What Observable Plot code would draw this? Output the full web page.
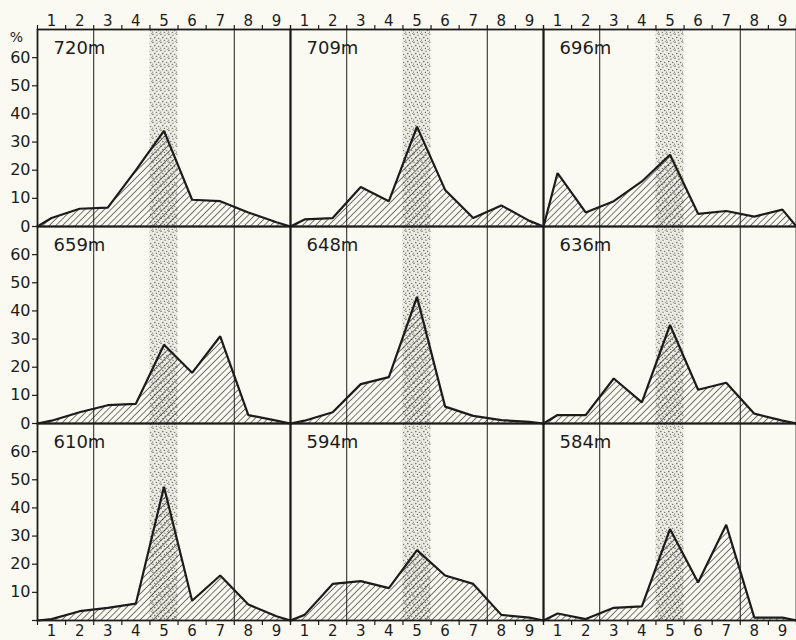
<!DOCTYPE html>
<html>
<head>
<meta charset="utf-8">
<script src="https://cdn.jsdelivr.net/npm/d3@7"></script>
<script src="https://cdn.jsdelivr.net/npm/@observablehq/plot@0.6"></script>
<style>
  html, body { margin: 0; padding: 0; background: #fbfaf2; }
  #chart { width: 796px; height: 640px; }
</style>
</head>
<body>
<div id="chart"></div>
<script>
// ---- data ----
const depths = ["720m", "709m", "696m", "659m", "648m", "636m", "610m", "594m", "584m"];
// x positions: left edge, centres of classes 1..9, right edge
const classPos = [0, 0.5, 1.5, 2.5, 3.5, 4.5, 5.5, 6.5, 7.5, 8.5, 9];
const classLabels = ["1", "2", "3", "4", "5", "6", "7", "8", "9"];
const classCentres = [0.5, 1.5, 2.5, 3.5, 4.5, 5.5, 6.5, 7.5, 8.5];
const classBounds = [0, 1, 2, 3, 4, 5, 6, 7, 8, 9];
const dividers = [2, 7];           // thin vertical lines
const band = [{x1: 4, x2: 5}];     // stippled class 5
const yTicks = [0, 10, 20, 30, 40, 50, 60];

const v720 = [0, 3, 6.3, 6.7, 20, 34, 9.5, 9, 5, 1.5, 0];
const v709 = [0, 2.5, 3, 14, 9, 35.5, 13, 3, 7.5, 2, 0];
const v696 = [0, 19, 5, 9, 16, 25.5, 4.5, 5.5, 3.5, 6, 0];
const v659 = [0, 1, 4, 6.5, 7, 28, 18, 31, 3, 1, 0];
const v648 = [0, 1, 4, 14, 16.5, 45, 6, 2.7, 1.2, 0.6, 0];
const v636 = [0, 3, 3, 16, 7.5, 35, 12, 14.5, 3.5, 1, 0];
const v610 = [0, 0.5, 3.3, 4.5, 6, 47.5, 7, 16, 5.7, 1.5, 0];
const v594 = [0, 2, 13, 14, 11.5, 25, 16, 13, 2, 1, 0];
const v584 = [0, 2.5, 0.5, 4.5, 5, 32.5, 13.5, 34, 1, 1, 0];
const series = [v720, v709, v696, v659, v648, v636, v610, v594, v584];

// ---- tables built from the arrays ----
const panels = depths.map((name, k) => ({name, col: k % 3, row: Math.floor(k / 3)}));
const points = panels.flatMap((p, k) => series[k].map((v, j) => ({panel: p.name, col: p.col, row: p.row, x: classPos[j], v})));
const yLabels = [0, 1, 2].flatMap(r => yTicks.filter(t => !(r === 2 && t === 0)).map(t => ({row: r, col: 0, t})));

const ink = "#1c1c1c";
const font = "DejaVu Sans";

const chart = Plot.plot({
  width: 796,
  height: 640,
  marginLeft: 37,
  marginRight: 0,
  marginTop: 28,
  marginBottom: 19,
  style: {background: "transparent", fontFamily: font, color: ink, overflow: "visible"},
  fx: {domain: [0, 1, 2], padding: 0, axis: null},
  fy: {domain: [0, 1, 2], padding: 0, axis: null},
  x: {domain: [0, 9]},
  y: {domain: [0, 70]},
  marks: [
    Plot.rect(band, {x1: "x1", x2: "x2", fill: "url(#stipple)"}),
    Plot.ruleX(dividers, {stroke: ink, strokeWidth: 1}),
    Plot.areaY(points, {x: "x", y: "v", fx: "col", fy: "row", z: "panel", fill: "url(#hatch)"}),
    Plot.line(points, {x: "x", y: "v", fx: "col", fy: "row", z: "panel", stroke: ink, strokeWidth: 2.2, strokeLinejoin: "miter"}),
    Plot.frame({stroke: ink, strokeWidth: 1.8}),
    Plot.text(panels, {fx: "col", fy: "row", text: "name", frameAnchor: "top-left", dx: 16, dy: 12, textAnchor: "start", lineAnchor: "top", fontSize: 18, fill: ink}),
    // y axis ticks + labels
    Plot.axisY({anchor: "left", ticks: yTicks, tickSize: 5, tickFormat: () => "", stroke: ink, strokeWidth: 1.2}),
    Plot.text(yLabels, {fx: "col", fy: "row", y: "t", text: d => String(d.t), frameAnchor: "left", dx: -7, textAnchor: "end", fontSize: 16, fill: ink}),
    Plot.text(["%"], {fx: () => 0, fy: () => 0, text: d => d, frameAnchor: "top-left", dx: -21, dy: 8, textAnchor: "middle", lineAnchor: "middle", fontSize: 14, fill: ink}),
    // top class axis
    Plot.axisX({anchor: "top", ticks: classBounds, tickSize: 5, tickFormat: () => "", stroke: ink, strokeWidth: 1.2}),
    Plot.axisX({anchor: "top", ticks: classCentres, tickSize: 0, tickPadding: 4, tickFormat: d => classLabels[classCentres.indexOf(d)], fontSize: 15, fill: ink}),
    // bottom class axis
    Plot.axisX({anchor: "bottom", ticks: classBounds, tickSize: 5, tickFormat: () => "", stroke: ink, strokeWidth: 1.2}),
    Plot.axisX({anchor: "bottom", ticks: classCentres, tickSize: 0, tickPadding: 5, tickFormat: d => classLabels[classCentres.indexOf(d)], fontSize: 15, fill: ink})
  ]
});

// texture patterns (styling only)
const svg = chart.tagName.toLowerCase() === "svg" ? chart : chart.querySelector("svg");
const NS = "http://www.w3.org/2000/svg";
const defs = document.createElementNS(NS, "defs");
defs.innerHTML = `
  <pattern id="hatch" patternUnits="userSpaceOnUse" width="4.6" height="4.6" patternTransform="rotate(45)">
    <line x1="0" y1="0" x2="0" y2="4.6" stroke="${ink}" stroke-width="1.2"/>
  </pattern>
  <pattern id="stipple" patternUnits="userSpaceOnUse" width="8" height="8">
    <rect width="8" height="8" fill="#ecebe2"/>
    <circle cx="1" cy="1.2" r="0.8" fill="#6f6f6a"/>
    <circle cx="5" cy="2.3" r="0.75" fill="#7d7d78"/>
    <circle cx="2.8" cy="4.6" r="0.8" fill="#6a6a65"/>
    <circle cx="6.6" cy="5.4" r="0.75" fill="#7d7d78"/>
    <circle cx="0.6" cy="7.1" r="0.65" fill="#858580"/>
    <circle cx="4.4" cy="7.4" r="0.7" fill="#6f6f6a"/>
    <circle cx="7.4" cy="0.4" r="0.55" fill="#90908a"/>
  </pattern>`;
svg.insertBefore(defs, svg.firstChild);
document.getElementById("chart").appendChild(chart);
</script>
</body>
</html>
